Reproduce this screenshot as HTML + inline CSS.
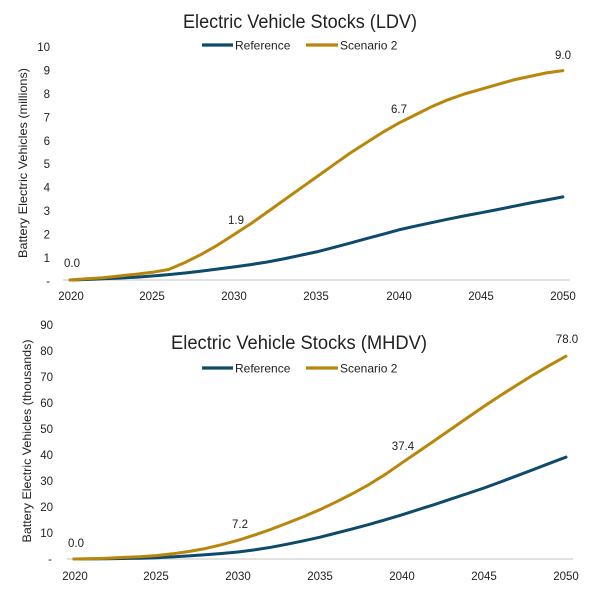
<!DOCTYPE html>
<html><head><meta charset="utf-8"><style>
html,body{margin:0;padding:0;background:#fff;}
svg{display:block;font-family:"Liberation Sans",Arial,sans-serif;}
</style></head><body>
<svg width="600" height="600" viewBox="0 0 600 600" xmlns="http://www.w3.org/2000/svg">
<rect width="600" height="600" fill="#fff"/>
<!-- ===== TOP CHART ===== -->
<text x="300" y="28" font-size="19.5" text-anchor="middle" fill="#222" textLength="234" lengthAdjust="spacingAndGlyphs">Electric Vehicle Stocks (LDV)</text>
<line x1="202" y1="45" x2="233" y2="45" stroke="#0D4A6B" stroke-width="3.2"/>
<text x="235" y="49.5" font-size="12" fill="#222">Reference</text>
<line x1="306" y1="45" x2="338" y2="45" stroke="#B8860B" stroke-width="3.2"/>
<text x="340" y="49.5" font-size="12" fill="#222">Scenario 2</text>
<text transform="translate(27,163) rotate(-90)" font-size="12" text-anchor="middle" fill="#222" textLength="190" lengthAdjust="spacingAndGlyphs">Battery Electric Vehicles (millions)</text>
<g font-size="11.5" fill="#222" text-anchor="end">
<text x="50" y="51">10</text>
<text x="50" y="74.6">9</text>
<text x="50" y="98">8</text>
<text x="50" y="121.4">7</text>
<text x="50" y="144.8">6</text>
<text x="50" y="168.2">5</text>
<text x="50" y="191.6">4</text>
<text x="50" y="215">3</text>
<text x="50" y="238.4">2</text>
<text x="50" y="261.8">1</text>
<text x="50" y="285">-</text>
</g>
<line x1="63" y1="280" x2="570" y2="280" stroke="#D9D9D9" stroke-width="1.5"/>
<g font-size="11.5" fill="#222" text-anchor="middle">
<text x="71" y="300">2020</text>
<text x="152" y="300">2025</text>
<text x="234" y="300">2030</text>
<text x="316" y="300">2035</text>
<text x="399" y="300">2040</text>
<text x="481" y="300">2045</text>
<text x="563" y="300">2050</text>
</g>
<polyline fill="none" stroke="#0D4A6B" stroke-width="3" stroke-linejoin="round" stroke-linecap="round" points="70,280 86.4,279.5 102.9,278.8 119.3,278.1 135.7,277.2 152.2,276 168.6,274.6 185,273 201.4,271.1 217.9,269 234.3,266.9 250.7,264.6 267.2,262 283.6,258.9 300,255.4 316.5,251.9 332.9,247.7 349.3,243.3 365.7,238.8 382.2,234.4 398.6,229.9 415,226.2 431.5,222.7 447.9,219.2 464.3,215.9 480.8,212.8 497.2,209.6 513.6,206.3 530,203 546.5,200 562.9,196.9"/>
<polyline fill="none" stroke="#B8860B" stroke-width="3" stroke-linejoin="round" stroke-linecap="round" points="70,280 86.4,278.8 102.9,277.7 119.3,276 135.7,274.2 152.2,272.3 168.6,269.5 185,262.5 201.4,254.3 217.9,244.9 234.3,234.4 250.7,223.8 267.2,212.1 283.6,200.4 300,188.7 316.5,177 332.9,165.3 349.3,153.6 365.7,143.1 382.2,132.6 398.6,123.2 415,115 431.5,106.8 447.9,99.8 464.3,94 480.8,89.3 497.2,84.6 513.6,79.9 530,76.4 546.5,72.9 562.9,70.6"/>
<g font-size="11.5" fill="#222" text-anchor="middle">
<text x="72" y="267">0.0</text>
<text x="236" y="224">1.9</text>
<text x="399" y="113">6.7</text>
<text x="563" y="59">9.0</text>
</g>
<!-- ===== BOTTOM CHART ===== -->
<text x="299" y="349" font-size="19.5" text-anchor="middle" fill="#222" textLength="256" lengthAdjust="spacingAndGlyphs">Electric Vehicle Stocks (MHDV)</text>
<line x1="202" y1="368" x2="233" y2="368" stroke="#0D4A6B" stroke-width="3.2"/>
<text x="235" y="372.5" font-size="12" fill="#222">Reference</text>
<line x1="306" y1="368" x2="338" y2="368" stroke="#B8860B" stroke-width="3.2"/>
<text x="340" y="372.5" font-size="12" fill="#222">Scenario 2</text>
<text transform="translate(31,441) rotate(-90)" font-size="12" text-anchor="middle" fill="#222" textLength="203" lengthAdjust="spacingAndGlyphs">Battery Electric Vehicles (thousands)</text>
<g font-size="11.5" fill="#222" text-anchor="end">
<text x="53" y="329">90</text>
<text x="53" y="355">80</text>
<text x="53" y="381">70</text>
<text x="53" y="407">60</text>
<text x="53" y="433">50</text>
<text x="53" y="459">40</text>
<text x="53" y="485">30</text>
<text x="53" y="511">20</text>
<text x="53" y="537">10</text>
<text x="52" y="563">-</text>
</g>
<line x1="67" y1="559" x2="573" y2="559" stroke="#D9D9D9" stroke-width="1.5"/>
<g font-size="11.5" fill="#222" text-anchor="middle">
<text x="75" y="580">2020</text>
<text x="156" y="580">2025</text>
<text x="238" y="580">2030</text>
<text x="320" y="580">2035</text>
<text x="402" y="580">2040</text>
<text x="484" y="580">2045</text>
<text x="566" y="580">2050</text>
</g>
<polyline fill="none" stroke="#0D4A6B" stroke-width="3" stroke-linejoin="round" stroke-linecap="round" points="74,559 90.4,558.9 106.8,558.7 123.2,558.5 139.6,558.2 156,557.7 172.4,556.9 188.8,555.9 205.2,554.8 221.6,553.5 238,552 254.4,549.9 270.8,547.3 287.2,544.2 303.6,540.8 320,537.2 336.4,533 352.8,528.8 369.2,524.4 385.6,519.7 402,514.8 418.4,509.6 434.8,504.4 451.2,498.9 467.6,493.5 484,488 500.4,482 516.8,475.8 533.2,469.6 549.6,463.3 566,457.1"/>
<polyline fill="none" stroke="#B8860B" stroke-width="3" stroke-linejoin="round" stroke-linecap="round" points="74,559 90.4,558.7 106.8,558.2 123.2,557.4 139.6,556.7 156,555.6 172.4,553.8 188.8,551.5 205.2,548.6 221.6,544.7 238,540.3 254.4,535.1 270.8,529.4 287.2,523.1 303.6,516.6 320,509.6 336.4,501.8 352.8,493.5 369.2,484.4 385.6,474.2 402,462.8 418.4,451.6 434.8,440.4 451.2,429 467.6,417.6 484,406.4 500.4,395.5 516.8,385.1 533.2,374.9 549.6,365.3 566,356.2"/>
<g font-size="11.5" fill="#222" text-anchor="middle">
<text x="76" y="547">0.0</text>
<text x="240" y="528">7.2</text>
<text x="403" y="450">37.4</text>
<text x="567" y="343">78.0</text>
</g>
</svg>
</body></html>
